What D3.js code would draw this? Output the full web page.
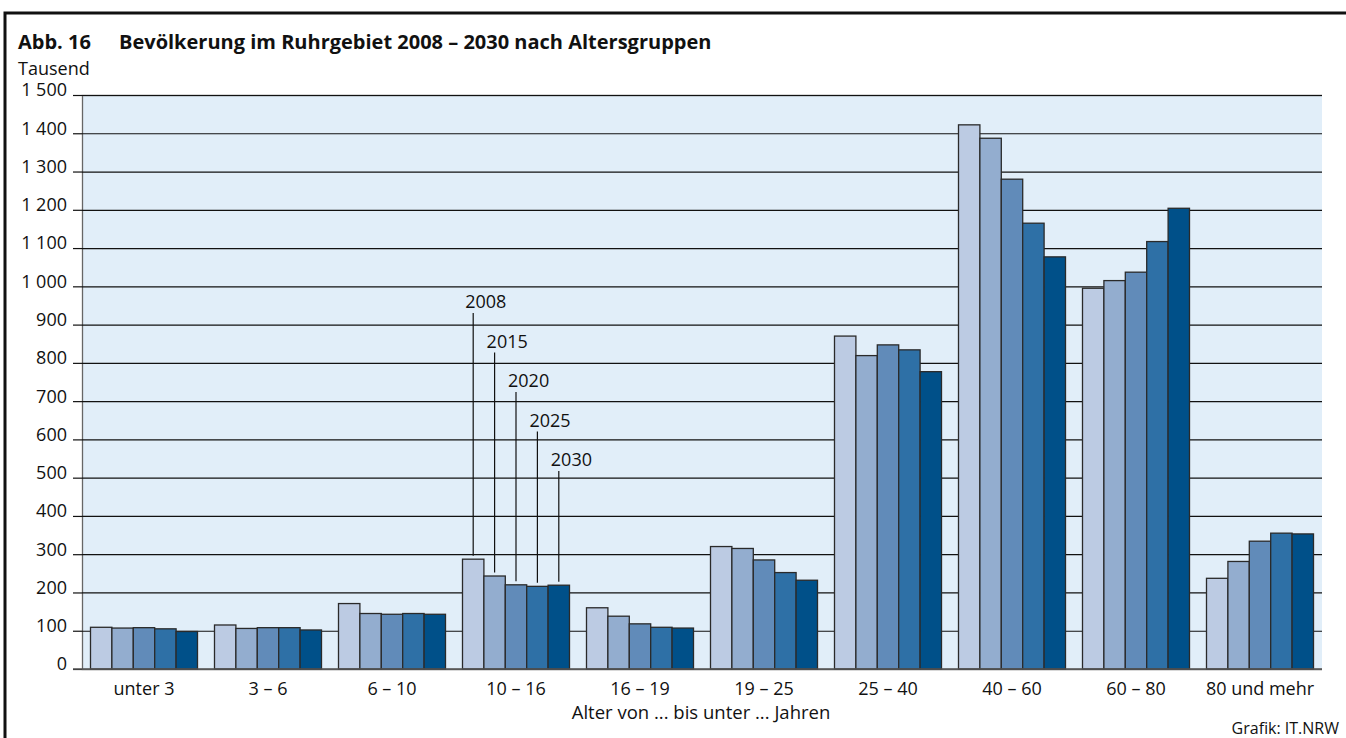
<!DOCTYPE html>
<html>
<head>
<meta charset="utf-8">
<script src="https://cdn.jsdelivr.net/npm/d3@7"></script>
<style>
  html, body { margin: 0; padding: 0; background: #fff; }
  svg { display: block; }
  text { font-family: "Open Sans", "Noto Sans", sans-serif; fill: #111; }
</style>
</head>
<body>
<svg id="chart" width="1346" height="738"></svg>
<script>
// ---- Data ----
const categories = ["unter 3", "3 – 6", "6 – 10", "10 – 16", "16 – 19", "19 – 25", "25 – 40", "40 – 60", "60 – 80", "80 und mehr"];
const years = ["2008", "2015", "2020", "2025", "2030"];
const v2008 = [109, 115, 171, 287, 160, 320, 870, 1422, 995, 237];
const v2015 = [107, 106, 145, 243, 138, 315, 819, 1387, 1015, 281];
const v2020 = [108, 108, 143, 220, 118, 285, 847, 1280, 1037, 334];
const v2025 = [105, 108, 145, 216, 109, 252, 834, 1165, 1117, 355];
const v2030 = [98, 102, 143, 219, 107, 232, 777, 1077, 1204, 353];
const seriesValues = [v2008, v2015, v2020, v2025, v2030];
const yTicks = [0, 100, 200, 300, 400, 500, 600, 700, 800, 900, 1000, 1100, 1200, 1300, 1400, 1500];
const colors = ["#bccbe3", "#93adcf", "#618bb9", "#2e70a6", "#005089"];
const annotatedGroup = "10 – 16";

// ---- Layout ----
const svg = d3.select("#chart");
const plot = { left: 82, right: 1322, top: 95, bottom: 669 };

const x0 = d3.scaleBand().domain(categories).range([plot.left, plot.right]).padding(0);
const innerPad = 8.5;
const x1 = d3.scaleBand().domain(years).range([innerPad, x0.bandwidth() - innerPad]).padding(0);
const y = d3.scaleLinear().domain([0, 1500]).range([plot.bottom, plot.top]);

// Frame
svg.append("path")
  .attr("d", `M5,740 L5,13 L1350,13`)
  .attr("fill", "none").attr("stroke", "#111").attr("stroke-width", 3);

// Title
svg.append("text").attr("x", 18).attr("y", 49)
  .style("font-weight", "700").style("font-size", "20px").text("Abb. 16");
svg.append("text").attr("x", 119).attr("y", 49)
  .style("font-weight", "700").style("font-size", "20px")
  .text("Bevölkerung im Ruhrgebiet 2008 – 2030 nach Altersgruppen");
svg.append("text").attr("x", 18).attr("y", 75)
  .style("font-size", "18px").text("Tausend");

// Plot background
svg.append("rect")
  .attr("x", plot.left).attr("y", plot.top)
  .attr("width", plot.right - plot.left).attr("height", plot.bottom - plot.top)
  .attr("fill", "#e1eef9");

// Y axis with gridlines
const fmt = d => d >= 1000 ? Math.floor(d / 1000) + " " + String(d % 1000).padStart(3, "0") : String(d);
const yAxis = d3.axisLeft(y).tickValues(yTicks).tickFormat(fmt)
  .tickSize(-(plot.right - plot.left)).tickPadding(0);
const gy = svg.append("g").attr("transform", `translate(${plot.left},0)`).call(yAxis);
gy.select(".domain").attr("stroke", "#666").attr("stroke-width", 1.3);
gy.selectAll(".tick line").attr("stroke", d => d === 0 ? "#666" : "#111").attr("stroke-width", 1.2);
gy.selectAll(".tick").append("line")
  .attr("x1", -9).attr("x2", 0).attr("stroke", "#111").attr("stroke-width", 1.2);
gy.selectAll(".tick text")
  .attr("x", -15).attr("dy", "0.05em")
  .style("font-size", "18px").style("font-family", "'Open Sans', sans-serif").attr("fill", "#111");

// Bars
const groups = svg.append("g").selectAll("g")
  .data(categories).join("g")
  .attr("transform", d => `translate(${x0(d)},0)`);
groups.selectAll("rect")
  .data((c, i) => years.map((yr, k) => ({ yr, k, v: seriesValues[k][i] })))
  .join("rect")
  .attr("x", d => x1(d.yr))
  .attr("y", d => y(d.v))
  .attr("width", x1.bandwidth())
  .attr("height", d => y(0) - y(d.v))
  .attr("fill", (d, i) => colors[i])
  .attr("stroke", "#2a2a2a").attr("stroke-width", 1.3);

// Baseline redraw
svg.append("line").attr("x1", plot.left - 9).attr("x2", plot.right)
  .attr("y1", y(0)).attr("y2", y(0)).attr("stroke", "#555").attr("stroke-width", 1.3);

// X axis labels
const xAxis = d3.axisBottom(x0).tickSize(0).tickPadding(0);
const gx = svg.append("g").attr("transform", `translate(0,${plot.bottom})`).call(xAxis);
gx.select(".domain").remove();
gx.selectAll(".tick text").attr("y", 26).attr("dy", 0)
  .style("font-size", "18px").style("font-family", "'Open Sans', sans-serif").attr("fill", "#111");

svg.append("text").attr("x", 701).attr("y", 719)
  .attr("text-anchor", "middle").style("font-size", "18.5px")
  .text("Alter von ... bis unter ... Jahren");

svg.append("text").attr("x", 1339).attr("y", 734)
  .attr("text-anchor", "end").style("font-size", "16px").text("Grafik: IT.NRW");

// Year annotations on the 10–16 group
const gi = categories.indexOf(annotatedGroup);
const labelBase = 308, labelStep = 39.5;
years.forEach((yr, k) => {
  const cx = x0(annotatedGroup) + x1(yr) + x1.bandwidth() / 2;
  const ly = labelBase + k * labelStep;
  svg.append("line")
    .attr("x1", cx).attr("x2", cx)
    .attr("y1", ly + 5).attr("y2", y(seriesValues[k][gi]) - 3.5)
    .attr("stroke", "#111").attr("stroke-width", 1.2);
  svg.append("text").attr("x", cx - 8).attr("y", ly)
    .style("font-size", "18px").text(yr);
});
</script>
</body>
</html>
